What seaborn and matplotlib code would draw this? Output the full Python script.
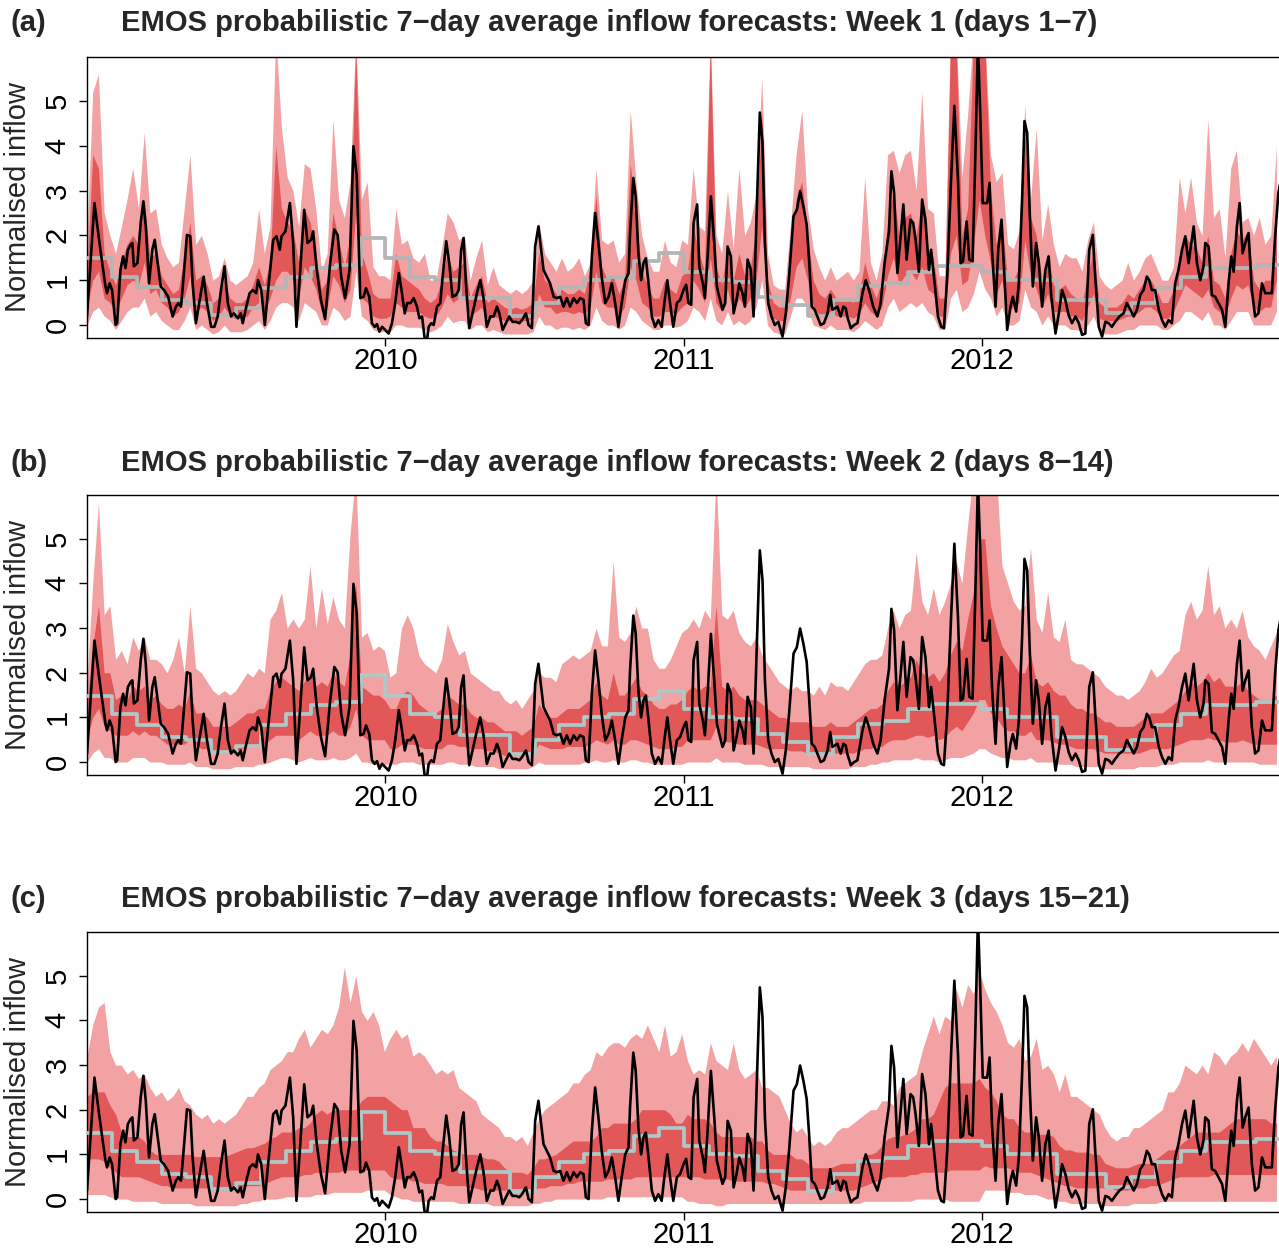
import numpy as np
import matplotlib
matplotlib.use("Agg")
import matplotlib.pyplot as plt
import seaborn as sns

# ---------------- observed 7-day average inflow: (offset within year, value) ----------------
OBS_2009 = [(0.000,0.19),(0.025,2.72),(0.039,1.98),(0.051,1.38),(0.062,0.86),(0.067,0.71),(0.076,0.93),(0.084,0.78),(0.096,0.00),(0.101,0.04),
(0.112,1.23),(0.121,1.53),(0.129,1.27),(0.137,1.68),(0.146,1.79),(0.152,1.83),(0.157,1.31),(0.169,1.38),(0.180,2.28),(0.189,2.76),
(0.197,2.20),(0.208,0.93),(0.219,1.68),(0.227,1.90),(0.234,1.53),(0.247,0.86),(0.258,0.78),(0.272,0.63),(0.287,0.19),(0.298,0.41),
(0.306,0.49),(0.315,0.41),(0.320,0.78),(0.335,2.01),(0.346,1.98),(0.354,0.93),(0.365,0.04),(0.376,0.49),(0.391,1.08),(0.402,0.49),
(0.416,-0.04),(0.427,-0.04),(0.438,0.19),(0.449,0.78),(0.461,1.31),(0.472,0.49),(0.483,0.19),(0.492,0.26),(0.506,0.15),(0.515,0.26),
(0.522,0.04),(0.534,0.41),(0.545,0.71),(0.556,0.78),(0.567,0.71),(0.573,1.00),(0.584,0.78),(0.596,0.00),(0.607,0.78),(0.624,1.90),
(0.635,1.98),(0.646,1.68),(0.652,1.98),(0.665,2.09),(0.680,2.72),(0.691,1.83),(0.702,-0.04),(0.713,1.08),(0.728,2.57),(0.739,1.83),
(0.751,1.90),(0.758,2.09),(0.770,1.23),(0.784,0.56),(0.798,0.13),(0.815,1.38),(0.829,2.13),(0.840,2.01),(0.852,1.08),(0.865,0.60),
(0.880,1.23),(0.893,3.99),(0.904,3.32),(0.916,0.60),(0.927,0.63),(0.935,0.82),(0.946,0.63),(0.955,0.04),(0.964,-0.04),(0.972,0.02),
(0.980,-0.15),(0.989,-0.04)]
OBS_2010 = [(0.011,-0.19),(0.022,0.04),(0.033,0.49),(0.045,1.16),(0.054,0.78),(0.065,0.26),(0.073,0.49),(0.084,0.49),(0.095,0.60),(0.106,0.41),
(0.114,0.15),(0.123,0.19),(0.132,-0.32),(0.140,-0.32),(0.145,-0.04),(0.154,0.04),(0.162,0.00),(0.173,0.41),(0.184,0.49),(0.192,1.08),
(0.204,1.87),(0.214,1.38),(0.225,0.63),(0.237,0.67),(0.246,0.78),(0.254,1.68),(0.262,1.94),(0.270,0.93),(0.281,-0.07),(0.292,0.26),
(0.307,0.71),(0.318,1.00),(0.329,0.60),(0.340,-0.04),(0.352,0.19),(0.363,0.19),(0.374,0.41),(0.382,0.26),(0.393,-0.11),(0.404,0.04),
(0.415,0.19),(0.426,0.07),(0.438,0.07),(0.449,0.04),(0.458,0.11),(0.471,0.26),(0.480,0.00),(0.491,-0.07),(0.502,1.75),(0.513,2.20),
(0.522,1.68),(0.530,1.23),(0.541,1.08),(0.552,0.93),(0.564,0.63),(0.575,0.60),(0.586,0.63),(0.597,0.41),(0.608,0.60),(0.619,0.41),
(0.631,0.60),(0.642,0.49),(0.653,0.60),(0.664,0.56),(0.672,0.04),(0.681,0.00),(0.692,1.53),(0.703,2.50),(0.714,1.83),(0.725,1.08),
(0.737,0.49),(0.748,0.63),(0.759,0.93),(0.770,0.49),(0.781,-0.04),(0.792,0.49),(0.804,1.00),(0.815,1.16),(0.820,2.05),(0.831,3.28),
(0.839,2.87),(0.848,1.60),(0.857,1.00),(0.865,1.38),(0.873,1.49),(0.882,0.93),(0.893,0.19),(0.904,-0.04),(0.915,0.11),(0.926,-0.04),
(0.935,0.49),(0.945,1.00),(0.954,0.49),(0.965,-0.04),(0.977,0.49),(0.988,0.56),(0.999,0.78)]
OBS_2011 = [(0.008,0.90),(0.016,0.49),(0.025,0.45),(0.033,2.28),(0.045,2.69),(0.052,1.31),(0.064,0.93),(0.071,0.60),(0.080,1.53),(0.091,2.87),
(0.103,1.75),(0.111,0.86),(0.119,0.63),(0.130,0.34),(0.139,0.49),(0.147,1.75),(0.158,1.53),(0.167,0.26),(0.177,0.56),(0.186,0.93),
(0.197,0.71),(0.205,0.41),(0.214,1.46),(0.225,1.23),(0.234,0.19),(0.245,2.65),(0.255,4.74),(0.264,4.07),(0.272,1.83),(0.283,0.49),
(0.294,0.19),(0.305,0.00),(0.317,0.07),(0.331,-0.26),(0.342,0.26),(0.353,1.08),(0.368,2.43),(0.379,2.57),(0.390,2.99),(0.401,2.65),
(0.412,2.24),(0.420,1.46),(0.429,0.41),(0.439,0.34),(0.448,0.19),(0.459,0.00),(0.470,0.04),(0.482,0.26),(0.491,0.67),(0.498,0.34),
(0.506,0.37),(0.515,0.41),(0.526,0.19),(0.535,0.41),(0.543,0.37),(0.548,0.19),(0.560,-0.07),(0.571,0.00),(0.582,0.04),(0.599,0.71),
(0.610,1.00),(0.621,0.78),(0.635,0.41),(0.649,0.19),(0.660,0.49),(0.673,1.38),(0.688,2.09),(0.696,3.43),(0.705,2.95),(0.716,1.16),
(0.727,1.98),(0.736,2.69),(0.747,1.46),(0.760,2.35),(0.769,2.28),(0.777,1.90),(0.788,1.19),(0.799,2.80),(0.810,2.35),(0.822,1.23),
(0.829,1.68),(0.841,0.93),(0.852,0.19),(0.863,-0.04),(0.872,-0.07),(0.883,1.08),(0.896,3.25),(0.907,4.89),(0.919,3.25),(0.928,1.38),
(0.936,1.42),(0.948,2.31),(0.957,1.46),(0.968,1.42),(0.977,3.69),(0.986,6.30),(0.994,4.66)]
OBS_2012 = [(0.002,2.72),(0.017,2.72),(0.025,3.17),(0.033,1.68),(0.045,0.41),(0.054,1.68),(0.065,2.35),(0.076,0.93),(0.084,-0.11),(0.095,0.41),
(0.103,0.63),(0.114,0.30),(0.123,0.93),(0.134,2.80),(0.142,4.55),(0.151,4.29),(0.160,2.43),(0.170,0.86),(0.181,1.83),(0.190,1.38),
(0.201,0.41),(0.212,1.23),(0.223,1.53),(0.232,0.63),(0.246,-0.19),(0.257,0.26),(0.268,0.78),(0.279,0.56),(0.290,0.22),(0.301,0.04),
(0.313,0.19),(0.324,0.04),(0.335,-0.22),(0.346,-0.19),(0.359,1.68),(0.371,2.01),(0.379,1.08),(0.391,-0.04),(0.402,-0.26),(0.413,0.07),
(0.424,0.04),(0.435,-0.04),(0.446,0.07),(0.460,0.19),(0.474,0.26),(0.485,0.49),(0.497,0.34),(0.508,0.19),(0.519,0.34),(0.530,0.67),
(0.541,0.78),(0.552,1.08),(0.560,1.00),(0.569,0.78),(0.580,0.78),(0.592,0.34),(0.603,0.11),(0.614,-0.04),(0.625,0.11),(0.636,0.04),
(0.647,0.93),(0.658,1.23),(0.670,1.68),(0.681,1.98),(0.692,1.38),(0.709,2.20),(0.720,1.38),(0.731,1.00),(0.742,1.31),(0.748,1.83),
(0.759,1.75),(0.770,0.67),(0.781,0.63),(0.792,0.49),(0.804,0.34),(0.815,-0.04),(0.826,0.93),(0.835,1.53),(0.843,1.19),(0.854,2.20),
(0.863,2.72),(0.873,1.60),(0.882,1.83),(0.893,2.05),(0.904,0.78),(0.915,0.19),(0.926,0.26),(0.938,0.93),(0.949,0.71),(0.960,0.71),
(0.971,0.71),(0.982,1.98),(0.993,2.95),(1.000,3.20)]

# ---------------- monthly climatology (Jan..Dec) ----------------
CLIM_2009 = [1.49, 1.08, 0.84, 0.56, 0.49, 0.22, 0.37, 0.82, 1.08, 1.27, 1.34, 1.94]
CLIM_2010 = [1.49, 1.08, 1.00, 0.60, 0.60, 0.19, 0.49, 0.84, 1.00, 1.08, 1.42, 1.60]
CLIM_2011 = [1.19, 1.00, 0.97, 0.63, 0.45, 0.19, 0.56, 0.86, 0.93, 1.19, 1.31, 1.31]
CLIM_2012 = [1.19, 1.00, 1.00, 0.56, 0.56, 0.26, 0.49, 0.82, 1.08, 1.27, 1.27, 1.34]

# ---------------- weekly EMOS intervals, panel (a): week 1 ----------------
A_U90 = [2.0,5.2,5.6,2.5,2.0,1.6,2.2,2.8,3.5,2.6,4.3,2.5,2.6,1.8,1.5,1.3,1.4,2.6,3.8,1.8,2.0,1.6,1.0,1.1,1.5,1.0,0.9,1.0,1.1,1.4,2.6,1.6,2.2,6.5,4.4,3.3,3.0,2.2,3.6,3.5,2.6,1.2,1.6,4.6,2.8,2.4,3.2,6.5,2.8,3.2,1.3,1.1,1.1,
 1.0,2.6,1.8,1.9,1.5,1.4,1.6,1.0,1.0,1.7,2.5,2.3,1.9,2.0,1.0,1.5,1.9,0.9,1.3,0.9,0.8,0.7,0.8,0.7,0.8,1.0,2.3,1.6,1.4,1.2,1.5,1.2,1.3,1.5,1.1,1.4,3.5,1.9,1.8,1.9,1.4,1.6,4.8,3.2,2.0,1.5,1.2,1.2,1.9,1.4,1.3,1.9,
 1.8,3.5,2.2,2.1,6.5,2.0,1.6,3.0,1.7,3.5,2.0,2.3,2.9,5.5,1.6,0.9,0.8,0.8,2.2,3.8,4.8,2.6,1.7,1.3,1.0,1.3,1.0,1.1,1.2,1.0,1.2,3.3,1.4,1.0,1.6,3.8,3.9,3.4,3.8,3.9,3.0,5.2,2.6,2.5,1.1,1.1,6.5,6.5,3.3,4.7,6.5,6.5,
 6.5,3.8,3.2,3.4,1.8,1.7,2.1,4.9,2.8,4.4,1.9,2.7,1.8,1.3,1.6,1.5,1.5,1.2,1.9,2.3,1.1,0.9,0.8,0.9,1.0,1.4,1.0,1.2,1.5,1.6,1.3,1.0,1.0,1.3,3.3,2.5,3.3,2.3,2.0,4.6,2.4,2.6,1.5,3.5,3.9,2.3,2.4,2.0,2.4,1.8,2.0,4.0]
A_U50 = [1.2,3.8,3.5,1.6,1.2,0.9,1.4,1.8,2.0,1.8,2.8,1.5,1.6,1.1,0.9,0.7,0.8,1.5,2.3,1.0,1.1,0.9,0.5,0.6,1.0,0.6,0.5,0.5,0.6,0.9,1.3,0.9,1.4,4.0,2.6,2.3,2.1,1.4,2.6,2.3,1.6,0.8,1.0,2.5,1.9,1.3,2.0,6.2,1.6,1.2,0.7,0.6,0.6,
 0.6,1.6,1.1,1.0,0.9,0.8,0.6,0.5,0.6,1.0,1.6,1.2,1.3,1.4,0.6,0.9,1.1,0.5,0.6,0.5,0.4,0.35,0.4,0.35,0.4,0.5,1.6,1.0,0.9,0.7,0.8,0.7,0.7,0.8,0.7,1.3,2.9,1.3,1.0,1.1,0.7,1.0,3.6,2.4,1.2,0.9,0.6,0.6,1.0,0.8,0.7,1.1,
 1.2,2.2,1.6,1.2,6.3,1.3,0.9,1.7,1.0,1.6,1.1,1.3,2.1,4.7,1.0,0.5,0.4,0.4,1.4,2.8,3.2,2.0,1.0,0.7,0.6,0.8,0.6,0.6,0.6,0.5,0.7,1.4,0.9,0.6,1.0,2.3,3.0,2.0,2.4,2.5,2.0,2.8,1.7,1.5,0.6,0.6,6.3,6.3,2.0,2.6,6.3,6.3,
 6.3,3.0,1.8,2.3,1.0,1.0,1.3,4.2,2.4,2.0,1.0,1.6,0.9,0.8,0.9,0.7,0.6,0.5,1.1,1.7,0.5,0.4,0.4,0.4,0.5,0.7,0.6,0.8,1.0,1.0,0.8,0.5,0.5,0.8,1.5,2.0,1.8,1.7,1.4,2.0,1.0,0.9,0.6,1.6,2.1,1.9,2.1,1.0,0.8,1.0,1.0,2.4]
A_L50 = [0.4,1.0,1.2,0.6,0.5,0.3,0.6,0.9,1.0,0.9,1.4,0.7,0.8,0.5,0.4,0.2,0.3,0.6,1.1,0.3,0.4,0.3,0.1,0.2,0.4,0.2,0.15,0.15,0.2,0.4,0.5,0.3,0.6,1.0,1.2,1.2,1.0,0.6,1.3,1.1,0.8,0.3,0.4,1.1,0.9,0.5,0.8,2.5,0.6,0.5,0.2,0.15,0.15,
 0.2,0.5,0.4,0.3,0.3,0.3,0.2,0.15,0.2,0.4,0.7,0.5,0.6,0.6,0.2,0.3,0.4,0.15,0.2,0.15,0.1,0.1,0.1,0.1,0.1,0.15,0.7,0.4,0.4,0.25,0.3,0.3,0.25,0.3,0.25,0.4,1.2,0.5,0.4,0.4,0.2,0.4,1.3,1.0,0.5,0.4,0.2,0.2,0.3,0.3,0.25,0.4,
 0.5,1.0,0.8,0.5,1.5,0.5,0.3,0.8,0.3,0.6,0.4,0.6,1.0,2.2,0.4,0.15,0.1,0.1,0.6,1.3,1.5,1.0,0.4,0.25,0.2,0.3,0.2,0.2,0.2,0.15,0.25,0.5,0.3,0.2,0.4,1.1,1.5,0.9,1.1,1.2,1.0,1.3,0.8,0.7,0.2,0.2,1.6,2.0,0.9,1.0,1.8,2.8,
 2.0,1.4,0.7,1.0,0.3,0.4,0.5,1.9,1.1,0.8,0.4,0.7,0.3,0.3,0.3,0.2,0.2,0.1,0.4,0.7,0.15,0.1,0.1,0.1,0.15,0.2,0.2,0.3,0.4,0.4,0.3,0.15,0.15,0.3,0.6,0.9,0.8,0.7,0.6,0.8,0.4,0.3,0.2,0.6,0.9,0.8,0.9,0.4,0.3,0.4,0.4,1.0]
A_L90 = [0.0,0.3,0.4,0.2,0.1,-0.1,0.1,0.3,0.4,0.4,0.6,0.2,0.3,0.1,0.0,-0.1,-0.1,0.1,0.4,-0.1,0.0,-0.1,-0.2,-0.15,0.0,-0.15,-0.15,-0.15,-0.1,0.0,0.1,-0.1,0.1,0.4,0.5,0.5,0.4,0.1,0.5,0.4,0.3,0.0,0.0,0.4,0.3,0.1,0.2,1.2,0.2,0.1,-0.1,-0.15,-0.15,
 -0.15,0.0,0.0,-0.05,-0.05,-0.05,-0.1,-0.15,-0.1,0.0,0.2,0.05,0.1,0.1,-0.1,0.0,0.0,-0.15,-0.1,-0.15,-0.2,-0.2,-0.2,-0.2,-0.2,-0.15,0.2,0.0,0.0,-0.1,-0.05,-0.05,-0.1,-0.05,-0.1,0.0,0.4,0.1,0.0,0.0,-0.1,0.0,0.4,0.3,0.1,0.0,-0.1,-0.1,0.0,0.0,-0.05,0.0,
 0.1,0.4,0.3,0.1,0.6,0.1,0.0,0.3,0.0,0.1,0.0,0.1,0.4,1.0,0.0,-0.15,-0.2,-0.2,0.2,0.6,0.6,0.4,0.0,-0.05,-0.1,0.0,-0.1,-0.1,-0.1,-0.15,-0.05,0.1,0.0,-0.1,0.0,0.4,0.6,0.3,0.4,0.5,0.4,0.5,0.3,0.2,-0.1,-0.1,0.6,0.8,0.3,0.4,0.7,1.2,
 0.8,0.6,0.2,0.4,0.0,0.0,0.1,0.8,0.4,0.3,0.0,0.2,0.0,0.0,0.0,-0.1,-0.1,-0.15,0.0,0.2,-0.15,-0.2,-0.2,-0.2,-0.15,-0.1,-0.1,0.0,0.0,0.0,0.0,-0.1,-0.1,0.0,0.1,0.3,0.3,0.2,0.1,0.3,0.0,0.0,-0.1,0.1,0.3,0.3,0.3,0.0,0.0,0.0,0.0,0.3]

# ---------------- panel (b): week 2 ----------------
B_U90 = [1.8,4.0,5.8,3.3,3.5,2.3,2.5,2.2,2.8,2.5,2.8,2.3,2.3,2.2,2.0,2.3,2.8,2.0,3.5,2.1,2.0,1.8,1.6,1.5,1.6,1.5,1.6,1.8,2.0,1.9,2.1,2.0,3.2,3.4,3.8,3.0,3.2,3.0,3.2,4.4,3.0,3.9,3.1,3.7,3.2,3.0,5.1,6.5,2.8,2.9,2.5,2.6,2.5,
 1.9,2.0,3.0,3.3,3.0,2.4,2.2,2.1,2.0,2.3,3.1,2.7,2.4,2.5,2.0,1.9,1.8,1.7,1.6,1.6,1.4,1.3,1.4,1.2,1.4,1.6,2.0,1.9,1.9,1.8,2.2,2.3,2.4,2.3,2.4,2.5,3.0,2.6,2.6,4.5,2.8,2.7,2.9,3.5,3.0,3.0,2.3,2.1,2.1,2.3,2.6,2.9,
 3.0,3.2,3.0,3.4,3.2,6.5,3.3,3.2,3.4,2.9,2.7,2.6,2.8,2.4,2.2,2.0,1.8,1.7,1.6,1.7,1.6,1.6,1.5,1.7,1.5,1.8,1.7,1.7,1.6,1.8,2.0,2.2,2.3,2.3,2.4,3.0,3.4,3.0,3.3,3.4,4.7,3.6,3.3,3.9,3.3,3.6,4.0,4.5,4.0,5.3,6.5,6.5,
 6.5,6.0,6.5,4.4,4.0,3.6,3.4,3.5,4.8,3.2,2.9,3.8,2.8,2.7,3.2,2.3,2.2,2.2,2.1,2.0,1.9,1.7,1.6,1.5,1.5,1.4,1.5,1.6,1.8,2.1,1.9,2.0,2.2,2.4,2.5,3.3,3.6,3.2,3.4,4.4,3.3,3.5,3.0,3.2,3.0,3.4,2.8,2.6,2.5,2.3,2.6,2.9]
B_U50 = [1.3,2.6,3.5,2.0,2.0,1.4,1.5,1.4,1.7,1.6,1.7,1.4,1.5,1.3,1.2,1.2,1.3,1.2,1.6,1.1,1.1,1.0,0.8,0.8,0.8,0.8,0.9,1.0,1.1,1.1,1.2,1.2,1.6,1.8,1.9,1.8,1.7,1.6,1.8,2.0,1.7,1.8,1.7,2.0,1.8,1.7,2.4,4.0,1.7,1.6,1.5,1.5,1.4,
 1.2,1.2,1.5,1.6,1.5,1.3,1.2,1.1,1.1,1.2,1.5,1.4,1.3,1.3,1.1,1.0,1.0,0.9,0.9,0.8,0.7,0.7,0.7,0.6,0.7,0.8,1.3,1.1,1.0,1.0,1.1,1.2,1.2,1.2,1.3,1.4,1.8,1.5,1.4,2.0,1.5,1.5,1.7,1.9,1.6,1.5,1.3,1.2,1.2,1.3,1.3,1.4,
 1.6,1.7,1.6,1.7,1.7,3.5,1.7,1.6,1.7,1.5,1.4,1.4,1.4,1.3,1.2,1.1,1.0,1.0,0.9,0.9,0.9,0.9,0.8,0.8,0.8,0.9,0.8,0.8,0.8,0.9,1.0,1.1,1.2,1.2,1.3,1.6,1.8,1.7,1.8,1.9,2.3,2.0,1.9,2.0,1.8,2.0,2.4,2.7,2.5,3.2,3.8,5.0,
 5.0,3.5,3.0,2.6,2.4,2.2,2.0,2.0,2.4,1.8,1.7,1.8,1.6,1.5,1.5,1.3,1.2,1.2,1.1,1.1,1.0,0.9,0.9,0.8,0.8,0.8,0.8,0.9,1.0,1.1,1.1,1.1,1.2,1.3,1.4,1.6,1.8,1.7,1.8,2.0,1.8,1.9,1.7,1.7,1.7,1.8,1.6,1.5,1.4,1.4,1.4,1.5]
B_L50 = [0.5,1.0,1.2,0.8,0.7,0.6,0.6,0.6,0.7,0.6,0.7,0.6,0.6,0.5,0.4,0.4,0.4,0.4,0.5,0.4,0.3,0.3,0.2,0.2,0.2,0.2,0.25,0.3,0.35,0.35,0.4,0.4,0.5,0.6,0.6,0.6,0.6,0.5,0.6,0.7,0.6,0.6,0.6,0.7,0.6,0.6,0.8,1.2,0.6,0.5,0.5,0.5,0.5,
 0.3,0.3,0.4,0.4,0.4,0.35,0.3,0.3,0.3,0.3,0.4,0.4,0.35,0.35,0.3,0.3,0.3,0.25,0.25,0.2,0.15,0.15,0.15,0.15,0.15,0.2,0.4,0.35,0.3,0.3,0.3,0.35,0.35,0.35,0.35,0.4,0.5,0.45,0.4,0.5,0.4,0.4,0.5,0.5,0.45,0.4,0.35,0.3,0.3,0.3,0.35,0.35,
 0.5,0.5,0.5,0.5,0.5,0.8,0.5,0.45,0.45,0.4,0.4,0.4,0.4,0.35,0.3,0.3,0.3,0.3,0.25,0.25,0.25,0.2,0.2,0.2,0.2,0.2,0.2,0.2,0.2,0.2,0.25,0.3,0.3,0.35,0.35,0.45,0.5,0.5,0.5,0.55,0.6,0.6,0.55,0.6,0.5,0.55,0.7,0.8,0.7,0.9,1.1,1.4,
 1.4,1.1,1.0,0.8,0.7,0.7,0.6,0.6,0.7,0.5,0.5,0.5,0.45,0.4,0.4,0.35,0.3,0.3,0.3,0.3,0.25,0.2,0.2,0.2,0.2,0.2,0.2,0.2,0.25,0.3,0.3,0.3,0.3,0.35,0.4,0.45,0.5,0.5,0.5,0.55,0.5,0.5,0.45,0.45,0.45,0.5,0.45,0.4,0.4,0.4,0.4,0.4]
B_L90 = [0.0,0.2,0.3,0.1,0.1,0.0,0.0,0.0,0.1,0.1,0.1,0.0,0.0,0.0,-0.05,-0.05,-0.05,-0.05,0.0,-0.1,-0.1,-0.1,-0.15,-0.15,-0.15,-0.15,-0.1,-0.1,-0.1,-0.1,-0.05,-0.05,0.0,0.05,0.1,0.1,0.05,0.0,0.05,0.1,0.05,0.05,0.05,0.1,0.05,0.05,0.1,0.2,0.0,0.0,-0.05,-0.05,-0.05,
 -0.05,-0.05,0.0,0.0,0.0,-0.05,-0.05,-0.05,-0.05,-0.05,0.0,0.0,-0.05,-0.05,-0.05,-0.1,-0.1,-0.1,-0.1,-0.15,-0.15,-0.15,-0.15,-0.15,-0.15,-0.1,0.0,-0.05,-0.05,-0.05,-0.05,-0.05,-0.05,-0.05,0.0,0.0,0.05,0.0,0.0,0.05,0.0,0.0,0.05,0.05,0.0,0.0,-0.05,-0.05,-0.05,-0.05,-0.05,-0.05,
 0.0,0.0,0.0,0.0,0.0,0.1,0.0,0.0,0.0,0.0,-0.05,-0.05,-0.05,-0.05,-0.1,-0.1,-0.1,-0.1,-0.1,-0.1,-0.1,-0.1,-0.15,-0.15,-0.15,-0.15,-0.15,-0.15,-0.15,-0.1,-0.1,-0.1,-0.05,-0.05,0.0,0.0,0.05,0.05,0.05,0.05,0.1,0.05,0.05,0.05,0.0,0.05,0.1,0.1,0.1,0.15,0.2,0.3,
 0.3,0.2,0.15,0.1,0.1,0.05,0.05,0.05,0.1,0.0,0.0,0.0,0.0,-0.05,-0.05,-0.05,-0.1,-0.1,-0.1,-0.1,-0.1,-0.15,-0.15,-0.15,-0.15,-0.15,-0.15,-0.1,-0.1,-0.1,-0.1,-0.05,-0.05,-0.05,0.0,0.0,0.0,0.0,0.0,0.05,0.0,0.0,0.0,0.0,0.0,0.0,0.0,0.0,-0.05,-0.05,-0.05,-0.05]

# ---------------- panel (c): week 3 ----------------
C_U90 = [3.2,3.9,4.3,4.4,3.3,3.0,3.0,2.8,2.9,2.7,2.8,2.5,2.3,2.4,2.2,2.3,2.5,2.2,2.1,1.9,1.8,1.9,1.7,1.8,1.7,1.8,1.9,2.1,2.3,2.3,2.5,2.6,2.9,3.0,3.1,3.3,3.3,3.6,3.8,3.4,3.6,3.8,3.7,3.9,4.3,5.2,4.4,5.0,4.2,4.0,4.2,3.9,3.3,
 3.6,3.8,3.6,3.7,3.2,3.3,3.2,3.0,2.8,2.9,2.8,2.9,2.5,2.4,2.3,2.2,1.9,1.8,1.7,1.6,1.4,1.4,1.3,1.4,1.2,1.5,1.8,2.0,2.1,2.2,2.3,2.4,2.6,2.6,2.8,2.9,3.3,3.2,3.4,3.5,3.5,3.4,3.6,3.7,3.6,3.9,3.6,3.3,3.9,3.2,3.3,3.7,
 3.1,2.8,2.9,2.8,3.5,3.1,3.0,2.9,3.5,2.9,2.7,2.8,2.9,2.5,2.5,2.4,2.3,2.0,1.7,1.5,1.6,1.4,1.2,1.3,1.2,1.3,1.5,1.6,1.6,1.7,1.8,1.9,2.0,2.0,2.2,2.2,2.1,2.5,2.6,2.7,2.8,3.3,3.7,4.1,3.7,4.1,4.0,4.7,4.3,4.8,4.6,5.1,
 4.7,4.4,4.2,3.9,3.5,3.4,3.6,3.1,3.2,3.6,2.9,3.0,2.8,2.4,2.8,2.3,2.3,2.2,2.1,2.0,1.9,1.6,1.4,1.3,1.4,1.4,1.6,1.6,1.7,1.8,1.9,2.0,2.4,2.4,2.6,3.0,2.9,2.8,3.0,2.8,3.3,3.2,3.0,3.2,3.3,3.5,3.3,3.6,3.4,3.2,3.0,3.2]
C_U50 = [2.3,2.4,2.4,2.4,2.1,1.9,1.5,1.4,1.4,1.4,1.3,1.1,1.0,1.0,1.0,1.0,1.0,1.0,1.0,0.95,0.95,0.95,0.95,0.95,0.95,1.0,1.05,1.1,1.15,1.15,1.2,1.25,1.35,1.4,1.5,1.5,1.5,1.6,1.6,1.7,1.9,2.0,1.9,2.0,2.0,2.0,2.0,2.0,2.2,2.3,2.3,2.3,2.3,
 2.2,2.1,2.0,2.0,1.6,1.6,1.6,1.4,1.3,1.3,1.2,1.1,1.05,1.0,1.0,1.0,0.95,0.9,0.9,0.85,0.7,0.6,0.6,0.6,0.55,0.7,0.9,0.9,0.95,1.0,1.1,1.2,1.3,1.3,1.3,1.3,1.4,1.6,1.6,1.7,1.7,1.7,1.7,1.8,2.0,2.0,2.0,2.0,2.0,1.9,1.7,1.7,
 1.9,1.8,1.8,1.8,1.7,1.5,1.4,1.4,1.4,1.4,1.4,1.4,1.3,1.3,1.1,1.0,1.0,1.0,1.0,0.9,0.9,0.8,0.7,0.7,0.7,0.7,0.75,0.8,0.8,0.8,0.85,1.0,1.0,1.05,1.2,1.35,1.4,1.4,1.45,1.5,1.6,1.8,1.8,1.9,2.2,2.5,2.6,2.6,2.6,2.6,2.6,2.7,
 2.5,2.4,2.2,1.9,1.8,1.8,1.6,1.5,1.5,1.45,1.45,1.45,1.4,1.2,1.1,1.1,1.05,1.05,1.05,1.0,1.0,0.8,0.75,0.7,0.7,0.7,0.75,0.8,0.8,0.8,0.9,1.0,1.1,1.1,1.2,1.3,1.4,1.5,1.5,1.5,1.5,1.5,1.6,1.7,1.8,1.8,1.8,1.8,1.8,1.8,1.7,1.7]
C_L50 = [0.9,0.9,0.9,0.85,0.7,0.6,0.5,0.5,0.5,0.5,0.45,0.4,0.35,0.3,0.3,0.25,0.25,0.25,0.25,0.25,0.25,0.25,0.2,0.2,0.2,0.2,0.25,0.25,0.3,0.3,0.3,0.35,0.4,0.45,0.5,0.5,0.5,0.5,0.55,0.55,0.6,0.6,0.6,0.6,0.6,0.65,0.65,0.65,0.65,0.65,0.65,0.65,0.65,
 0.5,0.45,0.45,0.45,0.4,0.4,0.35,0.35,0.35,0.35,0.3,0.3,0.3,0.3,0.25,0.25,0.2,0.2,0.2,0.2,0.2,0.2,0.2,0.2,0.2,0.2,0.25,0.25,0.3,0.3,0.3,0.35,0.35,0.4,0.4,0.4,0.4,0.4,0.45,0.45,0.45,0.45,0.45,0.5,0.5,0.5,0.5,0.5,0.5,0.5,0.5,0.5,
 0.5,0.5,0.5,0.45,0.45,0.45,0.45,0.45,0.4,0.4,0.4,0.4,0.4,0.4,0.35,0.35,0.3,0.25,0.2,0.2,0.2,0.2,0.2,0.2,0.2,0.2,0.2,0.2,0.2,0.2,0.25,0.3,0.35,0.4,0.45,0.5,0.5,0.5,0.5,0.55,0.55,0.6,0.6,0.6,0.6,0.6,0.65,0.65,0.65,0.65,0.65,0.65,
 0.75,0.7,0.7,0.7,0.7,0.65,0.6,0.6,0.6,0.55,0.5,0.45,0.4,0.35,0.3,0.3,0.25,0.25,0.25,0.25,0.25,0.25,0.25,0.2,0.2,0.2,0.25,0.25,0.25,0.3,0.3,0.35,0.4,0.45,0.5,0.5,0.5,0.5,0.5,0.5,0.55,0.55,0.55,0.55,0.55,0.55,0.55,0.55,0.55,0.55,0.55,0.55]
C_L90 = [0.1,0.1,0.1,0.1,0.05,0.0,0.0,0.0,-0.05,-0.05,-0.05,-0.05,-0.05,-0.1,-0.1,-0.1,-0.1,-0.1,-0.1,-0.15,-0.15,-0.15,-0.15,-0.15,-0.15,-0.15,-0.15,-0.1,-0.1,-0.05,-0.05,0.0,0.0,0.0,0.02,0.05,0.05,0.05,0.05,0.05,0.1,0.1,0.1,0.15,0.15,0.15,0.15,0.15,0.15,0.2,0.2,0.2,0.2,
 0.1,0.05,0.0,0.0,-0.05,-0.05,-0.05,-0.05,-0.05,-0.05,-0.05,-0.05,-0.1,-0.1,-0.1,-0.1,-0.1,-0.1,-0.15,-0.15,-0.15,-0.15,-0.15,-0.15,-0.15,-0.1,-0.1,-0.05,-0.05,0.0,0.0,0.0,0.0,0.0,0.0,0.0,0.0,0.0,0.05,0.05,0.05,0.05,0.05,0.05,0.05,0.05,0.05,0.05,0.05,0.05,0.05,0.05,
 -0.05,-0.05,-0.1,-0.1,-0.1,-0.15,-0.15,-0.1,-0.1,-0.1,-0.1,-0.1,-0.1,-0.1,-0.1,-0.1,-0.1,-0.1,-0.1,-0.1,-0.1,-0.1,-0.1,-0.1,-0.1,-0.1,-0.1,-0.1,-0.1,-0.1,-0.1,-0.05,-0.05,-0.05,-0.05,-0.05,-0.05,-0.05,-0.05,-0.05,0.0,0.0,0.0,0.0,0.0,0.0,-0.05,-0.05,-0.05,-0.05,-0.05,-0.05,
 0.2,0.2,0.2,0.2,0.15,0.15,0.15,0.1,0.1,0.1,0.05,0.0,0.0,-0.05,-0.05,-0.1,-0.1,-0.1,-0.1,-0.1,-0.1,-0.15,-0.15,-0.15,-0.15,-0.15,-0.1,-0.1,-0.1,-0.1,-0.1,-0.05,-0.05,-0.05,-0.05,-0.05,-0.05,-0.05,-0.05,-0.05,-0.05,-0.05,-0.05,-0.05,-0.05,-0.05,-0.05,-0.05,-0.05,-0.05,-0.05,-0.05]

TITLES = ["EMOS probabilistic 7\u2212day average inflow forecasts: Week 1 (days 1\u22127)",
          "EMOS probabilistic 7\u2212day average inflow forecasts: Week 2 (days 8\u221214)",
          "EMOS probabilistic 7\u2212day average inflow forecasts: Week 3 (days 15\u221221)"]
PANEL_LABELS = ["(a)", "(b)", "(c)"]
YEAR_TICKS = [2010, 2011, 2012]
Y_TICKS = [0, 1, 2, 3, 4, 5]

# ---------------- assemble series ----------------
obs_t, obs_v = [], []
for yr, seg in zip([2009, 2010, 2011, 2012], [OBS_2009, OBS_2010, OBS_2011, OBS_2012]):
    for off, v in seg:
        obs_t.append(yr + off)
        obs_v.append(v)
obs_t = np.array(obs_t)
obs_v = np.array(obs_v)

clim_v = CLIM_2009 + CLIM_2010 + CLIM_2011 + CLIM_2012
clim_t = [2009 + i / 12.0 for i in range(len(clim_v))] + [2013.0]
clim_v = clim_v + [clim_v[-1]]

WEEK = 7.0 / 365.25

def band(ax, lo, hi, color):
    n = min(len(lo), len(hi))
    t = 2009 + np.arange(n) * WEEK
    ax.fill_between(t, np.array(lo[:n]), np.array(hi[:n]), color=color, linewidth=0, zorder=1)

# ---------------- figure ----------------
sns.set_style("ticks")
plt.rcParams['font.family'] = ['Liberation Sans', 'DejaVu Sans']
plt.rcParams['axes.linewidth'] = 1.0

W, H = 1279, 1248
fig = plt.figure(figsize=(W / 100, H / 100), dpi=100)

LIGHT = "#F2A2A3"
DARK = "#E25758"
CLIM_COLORS = ["#B5B5B5", "#AEC8C8", "#AEC8C8"]

boxes = [(57, 338), (495, 775), (932, 1212)]
title_y = [23, 463, 899]
bands = [(A_L90, A_U90, A_L50, A_U50),
         (B_L90, B_U90, B_L50, B_U50),
         (C_L90, C_U90, C_L50, C_U50)]

for i in range(3):
    top, bot = boxes[i]
    ax = fig.add_axes([87 / W, 1 - bot / H, (W - 87) / W, (bot - top) / H])
    l90, u90, l50, u50 = bands[i]
    band(ax, l90, u90, LIGHT)
    band(ax, l50, u50, DARK)
    sns.lineplot(x=clim_t, y=clim_v, ax=ax, color=CLIM_COLORS[i], linewidth=2.7,
                 drawstyle='steps-post', estimator=None, sort=False, zorder=3)
    sns.lineplot(x=obs_t, y=obs_v, ax=ax, color='black', linewidth=1.9,
                 estimator=None, sort=False, zorder=4)
    ax.set_xlim(2009.0, 2012.995)
    ax.set_ylim(-0.29, 5.98)
    ax.set_xticks(YEAR_TICKS)
    ax.set_xticklabels([str(y) for y in YEAR_TICKS])
    ax.set_yticks(Y_TICKS)
    ax.set_yticklabels([str(y) for y in Y_TICKS])
    ax.tick_params(axis='both', direction='out', length=6, width=1.0, labelsize=21, colors='black')
    ax.tick_params(axis='y', labelrotation=90, pad=5)
    ax.tick_params(axis='x', pad=0.5)
    for lab in ax.get_yticklabels():
        lab.set_va('center')
    ax.spines['right'].set_visible(False)
    for s in ['left', 'top', 'bottom']:
        ax.spines[s].set_color('black')
        ax.spines[s].set_linewidth(1.0)
    ax.set_xlabel('')
    ax.set_ylabel('Normalised inflow', fontsize=21)
    ax.yaxis.set_label_coords(-0.046, 0.5)
    ty = 1 - title_y[i] / H
    fig.text(121 / W, ty, TITLES[i], ha='left', va='center', fontsize=21, fontweight='bold')
    fig.text(10 / W, ty, PANEL_LABELS[i], ha='left', va='center', fontsize=21, fontweight='bold')

fig.savefig("out.png", dpi=100)
